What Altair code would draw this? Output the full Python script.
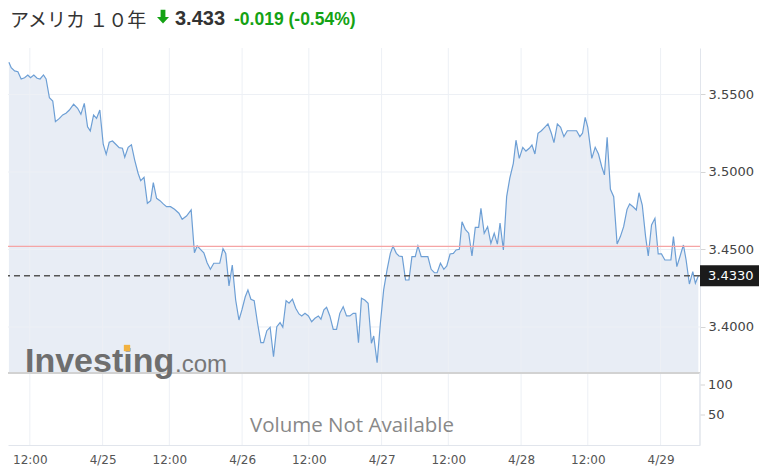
import altair as alt
import pandas as pd

# ---- data (trading hours after 4/24 12:00 JST) ----
hours = [
    -3.45, -3.07, -2.51, -1.97, -1.43, -0.87, -0.33, 0.11, 0.66, 1.20,
    1.69, 2.25, 2.68, 3.23, 3.78, 4.22, 4.88, 5.42, 5.96, 6.52,
    7.22, 7.88, 8.42, 8.98, 9.52, 9.97, 10.51, 11.00, 11.54, 12.10,
    12.59, 13.09, 13.63, 14.17, 14.73, 15.27, 15.65, 16.21, 16.75, 17.29,
    17.85, 18.28, 18.83, 19.38, 19.92, 20.36, 20.90, 21.46, 22.00, 22.54,
    23.20, 23.86, 24.58, 25.12, 25.83, 26.60, 27.14, 27.59, 28.13, 28.69,
    29.23, 29.77, 30.33, 30.75, 31.31, 31.85, 32.30, 32.84, 33.38, 33.94,
    34.48, 34.97, 35.52, 35.96, 36.45, 36.99, 37.55, 38.09, 38.54, 39.08,
    39.62, 40.18, 40.72, 41.26, 41.71, 42.25, 42.74, 43.30, 43.84, 44.38,
    44.83, 45.37, 45.93, 46.47, 47.01, 47.57, 48.00, 48.49, 48.93, 49.47,
    50.03, 50.57, 51.11, 51.67, 52.22, 52.76, 53.32, 53.74, 54.19, 54.68,
    55.22, 55.78, 56.32, 56.70, 57.26, 57.80, 58.34, 58.90, 59.44, 59.88,
    60.43, 60.87, 61.41, 61.95, 62.51, 63.00, 63.55, 63.99, 64.53, 65.07,
    65.63, 66.17, 66.71, 67.16, 67.70, 68.26, 68.75, 69.29, 69.83, 70.28,
    70.82, 71.26, 71.80, 72.36, 72.90, 73.45, 74.00, 74.38, 74.92, 75.48,
    76.02, 76.57, 77.09, 77.53, 78.08, 78.62, 79.14, 79.72, 80.16, 80.70,
    81.28, 81.80, 82.35, 82.79, 83.28, 83.79, 84.35, 84.89, 85.43, 85.99,
    86.42, 86.98, 87.52, 88.06, 88.62, 89.16, 89.70, 90.15, 90.69, 91.13,
    91.57, 92.00, 92.66, 93.22, 93.76, 94.30, 94.74, 95.19, 95.73, 96.27,
    96.83, 97.37, 97.91, 98.47, 98.90, 99.46, 100.00, 100.44, 100.98, 101.53,
    101.97, 102.51, 103.07, 103.61, 104.15, 104.71, 105.25, 105.70, 106.12, 106.68,
    107.22, 107.77, 108.21, 108.75, 109.31, 109.74, 110.23,
]
yields = [
    3.5708, 3.5673, 3.5652, 3.5647, 3.5600, 3.5608, 3.5626, 3.5608, 3.5626, 3.5605,
    3.5600, 3.5626, 3.5600, 3.5479, 3.5458, 3.5325, 3.5346, 3.5368, 3.5379, 3.5400,
    3.5437, 3.5411, 3.5372, 3.5443, 3.5292, 3.5265, 3.5368, 3.5346, 3.5400, 3.5179,
    3.5114, 3.5192, 3.5200, 3.5179, 3.5157, 3.5153, 3.5095, 3.5159, 3.5176, 3.5077,
    3.4992, 3.4944, 3.4966, 3.4798, 3.4815, 3.4931, 3.4830, 3.4815, 3.4794, 3.4776,
    3.4776, 3.4759, 3.4734, 3.4695, 3.4716, 3.4755, 3.4479, 3.4523, 3.4501, 3.4479,
    3.4415, 3.4372, 3.4411, 3.4411, 3.4411, 3.4505, 3.4475, 3.4265, 3.4400, 3.4174,
    3.4045, 3.4110, 3.4195, 3.4239, 3.4179, 3.4170, 3.4024, 3.3899, 3.3899, 3.3976,
    3.3998, 3.3808, 3.4002, 3.4028, 3.3998, 3.4170, 3.4153, 3.4179, 3.4121, 3.4084,
    3.4071, 3.4088, 3.4071, 3.4034, 3.4056, 3.4071, 3.4050, 3.4110, 3.4127, 3.4071,
    3.3985, 3.3985, 3.4088, 3.4131, 3.4071, 3.4071, 3.4088, 3.4088, 3.3899, 3.4185,
    3.4174, 3.4153, 3.3895, 3.3942, 3.3770, 3.4024, 3.4239, 3.4368, 3.4475, 3.4521,
    3.4475, 3.4458, 3.4454, 3.4303, 3.4303, 3.4454, 3.4454, 3.4523, 3.4454, 3.4454,
    3.4454, 3.4372, 3.4350, 3.4350, 3.4411, 3.4372, 3.4394, 3.4471, 3.4475, 3.4497,
    3.4501, 3.4679, 3.4630, 3.4605, 3.4458, 3.4643, 3.4643, 3.4766, 3.4605, 3.4647,
    3.4539, 3.4605, 3.4535, 3.4671, 3.4497, 3.4841, 3.4961, 3.5056, 3.5205, 3.5088,
    3.5159, 3.5135, 3.5153, 3.5174, 3.5116, 3.5250, 3.5266, 3.5288, 3.5310, 3.5250,
    3.5189, 3.5310, 3.5288, 3.5228, 3.5266, 3.5266, 3.5266, 3.5266, 3.5228, 3.5250,
    3.5353, 3.5288, 3.5088, 3.5159, 3.5116, 3.5034, 3.4981, 3.5224, 3.4888, 3.4841,
    3.4535, 3.4583, 3.4647, 3.4759, 3.4794, 3.4776, 3.4755, 3.4866, 3.4787, 3.4583,
    3.4458, 3.4658, 3.4701, 3.4471, 3.4471, 3.4432, 3.4432, 3.4432, 3.4583, 3.4389,
    3.4458, 3.4529, 3.4432, 3.4277, 3.4357, 3.4282, 3.4330,
]

tick_hours = [0, 12, 23, 35, 46, 58, 69, 81, 92, 104]
tick_labels = ["12:00", "4/25", "12:00", "4/26", "12:00", "4/27", "12:00", "4/28", "12:00", "4/29"]
price_ticks = [3.40, 3.45, 3.50, 3.55]
volume_ticks = [50, 100]

instrument = "アメリカ １０年"
last_price = 3.433
change = "-0.019"
change_pct = "(-0.54%)"
prev_close = 3.452

price_domain = [3.3703, 3.5800]
volume_domain = [0, 120]
x_domain = [-3.6, 110.5]

# ---- layout ----
W, H, PH = 692, 397, 325
GREEN = "#14a214"
GRID = "#edf0f5"
EDGE = "#e1e5ec"

df = pd.DataFrame({"t": hours, "p": yields})

label_expr = "".join(
    f"datum.value == {v} ? '{l}' : " for v, l in zip(tick_hours, tick_labels)
) + "''"

x_enc = alt.X(
    "t:Q",
    scale=alt.Scale(domain=x_domain, nice=False, zero=False),
    axis=alt.Axis(
        values=tick_hours, labelExpr=label_expr, grid=False,
        ticks=False, domain=True, domainColor=EDGE,
        labelFont="DejaVu Sans", labelFontSize=12, labelColor="#555555",
        labelPadding=9, labelFlush=False, labelOverlap=False, title=None,
    ),
)

price_scale = alt.Scale(domain=price_domain, range=[PH, 0], nice=False, zero=False)
y_price = alt.Y(
    "p:Q",
    scale=price_scale,
    axis=alt.Axis(
        orient="right", values=price_ticks, format=".4f", grid=False,
        tickColor="#d5d5d5", tickSize=5, domainColor=EDGE,
        labelFont="DejaVu Sans", labelFontSize=13, labelColor="#444444",
        labelPadding=3, title=None,
    ),
)

area = alt.Chart(df).mark_area(color="#e8edf5").encode(
    x=x_enc, y=y_price, y2=alt.datum(price_domain[0])
)
grid_v = alt.Chart(pd.DataFrame({"t": tick_hours})).mark_rule(
    color=GRID, strokeWidth=1
).encode(x=x_enc)
grid_h = alt.Chart(pd.DataFrame({"p": price_ticks})).mark_rule(
    color=GRID, strokeWidth=1
).encode(y=y_price)
line = alt.Chart(df).mark_line(color="#6d9fd5", strokeWidth=1.2).encode(x=x_enc, y=y_price)

prev_df = pd.DataFrame({"p": [prev_close]})
last_df = pd.DataFrame({"p": [last_price], "lbl": [f"{last_price:.4f}"]})
base_df = pd.DataFrame({"p": [price_domain[0]]})

red = alt.Chart(prev_df).mark_rule(color="#f5a5a5", strokeWidth=1.2).encode(y=y_price)
dash = alt.Chart(last_df).mark_rule(
    color="#555555", strokeWidth=1.5, strokeDash=[6, 4]
).encode(y=y_price)
border = alt.Chart(base_df).mark_rule(color="#d2d2d2", strokeWidth=2).encode(y=y_price)
box = alt.Chart(last_df).mark_rect(
    color="#1b1b1b", yOffset=-10.5, y2Offset=10.5
).encode(y=y_price, y2="p:Q", x=alt.value(W), x2=alt.value(W + 63))
box_txt = alt.Chart(last_df).mark_text(
    align="left", baseline="middle", font="DejaVu Sans", fontSize=13, color="white"
).encode(y=y_price, x=alt.value(W + 8), text="lbl:N")

price_layer = alt.layer(area, grid_v, grid_h, line, red, dash, border, box, box_txt)

vol_df = pd.DataFrame({"v": volume_ticks})
vol_scale = alt.Scale(domain=volume_domain, range=[H, PH], nice=False, zero=False)
y_vol = alt.Y("v:Q", scale=vol_scale, axis=None)
vol_tick = alt.Chart(vol_df).mark_rule(color="#d5d5d5").encode(
    y=y_vol, x=alt.value(W), x2=alt.value(W + 5)
)
vol_lbl = alt.Chart(vol_df).mark_text(
    align="left", baseline="middle", font="DejaVu Sans", fontSize=13, color="#444444"
).encode(y=y_vol, x=alt.value(W + 8), text="v:Q")
vol_edge = alt.Chart(vol_df).mark_rule(color=EDGE).encode(
    x=alt.value(W), y=alt.value(PH), y2=alt.value(H)
)
volume_layer = alt.layer(vol_tick, vol_lbl, vol_edge)

one = pd.DataFrame({"a": [0]})


def txt(s, x, y, size, color, font="Liberation Sans", weight="normal", align="left", baseline="alphabetic"):
    return alt.Chart(one).mark_text(
        align=align, baseline=baseline, font=font, fontSize=size,
        fontWeight=weight, color=color,
    ).encode(x=alt.value(x), y=alt.value(y), text=alt.value(s))


arrow = alt.Chart(one).mark_point(
    shape="M-0.4,-1.2L0.4,-1.2L0.4,0L1,0L0,1.1L-1,0L-0.4,0Z",
    filled=True, size=144, color=GREEN, opacity=1, strokeWidth=0,
).encode(x=alt.value(155), y=alt.value(-31))

logo_dot = alt.Chart(one).mark_point(
    shape="square", filled=True, size=40, color="#f2b240", opacity=1, strokeWidth=0,
).encode(x=alt.value(119), y=alt.value(300))

deco = alt.layer(
    txt(instrument, 2, -21, 19, "#333333", font="Noto Sans CJK JP"),
    arrow,
    txt(f"{last_price:.3f}", 167, -23, 20, "#333333", weight="bold"),
    txt(f"{change} {change_pct}", 226, -23, 17.5, GREEN, weight="bold"),
    txt("Investing", 17, 324, 34, "#6e6e6e", weight="bold"),
    txt(".com", 167, 324, 24, "#777777"),
    logo_dot,
    txt("Volume Not Available", 344, 378, 20.5, "#888888", font="Open Sans",
        align="center", baseline="middle"),
)

chart = (
    alt.layer(price_layer, volume_layer, deco)
    .resolve_scale(y="independent")
    .properties(
        width=W, height=H,
        padding={"left": 0, "top": 40, "right": 59, "bottom": 21},
        autosize=alt.AutoSizeParams(type="none"),
        background="white",
    )
    .configure_view(stroke=None)
)

chart.save("out.html", embed_options={"renderer": "svg", "actions": False})
